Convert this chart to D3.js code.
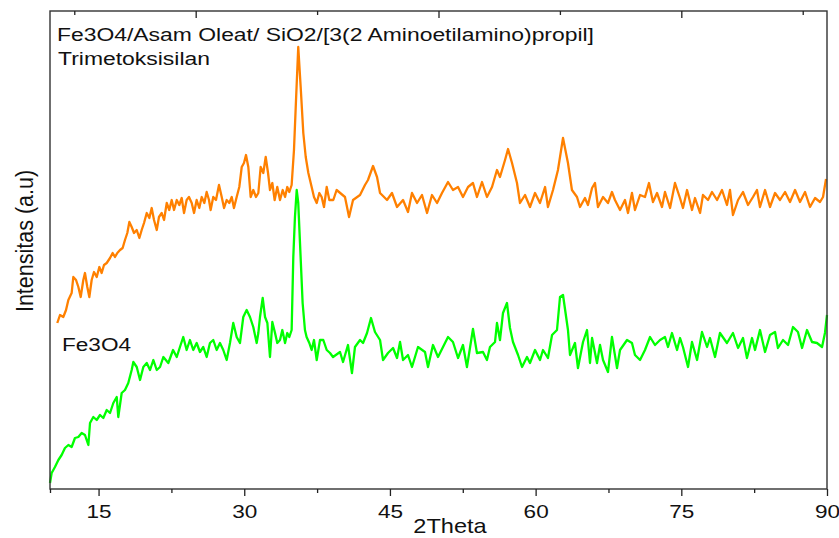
<!DOCTYPE html>
<html>
<head>
<meta charset="utf-8">
<script src="https://cdn.jsdelivr.net/npm/d3@7"></script>
<style>
    body { margin: 0; background: #fff; }
    text { font-family: 'Liberation Sans', Arial, sans-serif; fill: #111; }
</style>
</head>
<body>
<div class="xrd-container"></div>
<script>
// 2Theta tick labels
const majorTicks = [15, 30, 45, 60, 75, 90];
const minorTicks = [10, 22.5, 37.5, 52.5, 67.5, 82.5];
const topMajorTicks = [25, 50, 75];
const topMinorTicks = [12.5, 37.5, 62.5, 87.5];

// Fe3O4 (green)
const fe3o4Theta = [
    10.00, 10.17, 10.51, 10.86, 11.20, 11.54, 11.89, 12.23, 12.57, 12.92,
    13.26, 13.60, 13.95, 14.12, 14.46, 14.81, 15.15, 15.49, 15.84, 16.18,
    16.52, 16.87, 17.03, 17.38, 17.72, 18.06, 18.41, 18.58, 18.93, 19.27,
    19.61, 19.96, 20.30, 20.64, 20.99, 21.33, 21.67, 22.18, 22.67, 23.05,
    23.38, 23.72, 24.07, 24.41, 24.75, 25.10, 25.44, 25.78, 26.13, 26.47,
    26.81, 27.16, 27.50, 27.84, 28.19, 28.53, 28.87, 29.22, 29.56, 29.90,
    30.25, 30.59, 30.93, 31.28, 31.45, 31.62, 31.90, 32.14, 32.38, 32.65,
    32.89, 33.17, 33.40, 33.68, 33.92, 34.20, 34.43, 34.64, 34.88, 35.05,
    35.22, 35.40, 35.56, 35.74, 36.01, 36.25, 36.42, 36.70, 36.94, 37.18,
    37.46, 37.80, 38.14, 38.49, 38.83, 39.14, 39.86, 40.17, 40.68, 41.09,
    41.40, 41.92, 42.23, 42.64, 43.05, 43.46, 43.98, 44.29, 44.80, 45.32,
    45.73, 46.04, 46.35, 46.86, 47.27, 47.89, 48.61, 48.92, 49.43, 49.95,
    50.67, 50.98, 51.49, 52.01, 52.52, 52.93, 53.55, 53.96, 54.58, 54.99,
    55.30, 55.82, 56.02, 56.33, 56.64, 57.05, 57.36, 57.67, 58.19, 58.60,
    59.11, 59.42, 59.94, 60.45, 60.76, 61.27, 61.69, 62.20, 62.51, 62.82,
    63.33, 63.54, 64.05, 64.36, 64.88, 65.29, 65.60, 65.81, 66.32, 66.63,
    66.94, 67.45, 67.86, 68.38, 68.69, 69.41, 69.92, 70.23, 70.75, 71.26,
    71.78, 72.29, 72.81, 73.32, 73.63, 74.04, 74.56, 74.87, 75.17, 75.69,
    76.10, 76.62, 77.13, 77.65, 77.95, 78.47, 78.98, 79.70, 80.32, 80.84,
    81.35, 81.76, 82.28, 82.59, 83.10, 83.62, 84.13, 84.65, 84.95, 85.47,
    85.99, 86.50, 87.01, 87.43, 87.94, 88.46, 88.97, 89.49, 89.79, 90.00];
const fe3o4Int = [
    6, 16, 22, 29, 34, 41, 44, 42, 51, 52,
    56, 54, 44, 66, 72, 69, 74, 71, 79, 76,
    86, 92, 72, 96, 99, 106, 119, 127, 122, 109,
    122, 126, 119, 129, 119, 122, 132, 126, 139, 132,
    142, 152, 139, 149, 139, 146, 137, 142, 132, 146,
    149, 139, 146, 139, 129, 146, 166, 152, 146, 172,
    179, 172, 162, 146, 156, 172, 191, 172, 166, 132,
    167, 156, 146, 149, 159, 146, 156, 152, 159, 232,
    272, 299, 286, 246, 186, 159, 152, 146, 139, 149,
    129, 149, 149, 139, 136, 132, 137, 127, 144, 116,
    142, 149, 146, 156, 171, 157, 149, 129, 136, 141,
    131, 147, 129, 134, 122, 142, 137, 122, 144, 132,
    146, 152, 147, 131, 144, 122, 160, 136, 137, 129,
    142, 147, 166, 149, 176, 186, 161, 147, 134, 122,
    132, 126, 139, 129, 139, 131, 154, 159, 192, 194,
    159, 134, 146, 121, 147, 159, 126, 151, 126, 144,
    129, 117, 152, 121, 139, 149, 146, 134, 129, 139,
    152, 144, 149, 152, 142, 156, 139, 151, 142, 122,
    147, 129, 157, 142, 151, 132, 156, 146, 156, 141,
    151, 131, 151, 139, 159, 137, 154, 157, 141, 149,
    144, 162, 157, 141, 159, 147, 146, 142, 156, 174];

// Fe3O4/Asam Oleat/SiO2/... (orange)
const coatedTheta = [
    10.75, 11.03, 11.37, 11.65, 11.89, 12.23, 12.40, 12.68, 12.92, 13.16,
    13.43, 13.60, 13.84, 14.05, 14.29, 14.53, 14.81, 15.08, 15.32, 15.56,
    15.84, 16.18, 16.45, 16.69, 16.93, 17.21, 17.48, 17.72, 17.96, 18.17,
    18.41, 18.65, 18.93, 19.20, 19.44, 19.68, 19.96, 20.23, 20.47, 20.71,
    20.99, 21.22, 21.50, 21.74, 22.02, 22.28, 22.53, 22.77, 23.05, 23.31,
    23.56, 23.80, 24.07, 24.31, 24.59, 24.83, 25.10, 25.37, 25.62, 25.89,
    26.13, 26.37, 26.54, 26.81, 27.09, 27.40, 27.68, 27.92, 28.19, 28.46,
    28.71, 28.94, 29.22, 29.49, 29.74, 29.97, 30.18, 30.42, 30.66, 30.93,
    31.21, 31.45, 31.69, 31.96, 32.21, 32.45, 32.65, 32.89, 33.13, 33.40,
    33.68, 33.96, 34.20, 34.43, 34.64, 34.88, 35.12, 35.33, 35.56, 35.81,
    36.08, 36.33, 36.60, 36.94, 37.18, 37.46, 37.73, 37.97, 38.21, 38.49,
    38.76, 39.17, 39.51, 40.37, 40.79, 41.20, 41.92, 42.43, 42.74, 43.26,
    43.67, 43.98, 44.70, 45.21, 45.73, 46.35, 46.86, 47.27, 47.79, 48.30,
    48.82, 49.33, 49.85, 50.36, 50.98, 51.49, 52.01, 52.52, 53.04, 53.55,
    53.96, 54.48, 54.99, 55.51, 56.02, 56.33, 56.85, 57.16, 57.57, 58.08,
    58.39, 58.91, 59.42, 59.94, 60.45, 60.97, 61.27, 61.79, 62.30, 62.82,
    63.33, 63.74, 64.26, 64.57, 65.08, 65.39, 65.81, 66.11, 66.42, 66.94,
    67.45, 67.86, 68.17, 68.69, 69.20, 69.51, 69.92, 70.23, 70.75, 71.26,
    71.67, 72.08, 72.50, 73.01, 73.32, 73.84, 74.35, 74.86, 75.17, 75.59,
    76.10, 76.41, 76.93, 77.23, 77.75, 78.16, 78.68, 79.19, 79.70, 80.01,
    80.32, 80.84, 81.35, 81.87, 82.38, 82.79, 83.10, 83.62, 84.13, 84.65,
    85.16, 85.68, 86.19, 86.71, 87.22, 87.74, 88.25, 88.77, 89.28, 89.59,
    89.90];
const coatedInt = [
    166, 174, 172, 179, 189, 196, 212, 209, 202, 192,
    209, 216, 202, 192, 209, 217, 212, 222, 216, 224,
    226, 231, 236, 232, 236, 239, 241, 249, 256, 267,
    262, 256, 259, 251, 259, 266, 276, 271, 281, 269,
    259, 272, 276, 269, 286, 279, 289, 279, 289, 284,
    291, 276, 289, 292, 286, 276, 289, 281, 292, 286,
    297, 289, 279, 292, 289, 304, 292, 281, 289, 286,
    292, 281, 292, 302, 322, 326, 334, 322, 292, 299,
    292, 296, 322, 316, 332, 316, 299, 306, 289, 302,
    289, 299, 292, 302, 297, 304, 339, 389, 442, 402,
    356, 332, 316, 302, 292, 286, 296, 292, 282, 302,
    289, 289, 299, 292, 272, 289, 294, 304, 309, 323,
    312, 296, 289, 296, 282, 289, 277, 296, 286, 294,
    276, 294, 286, 296, 307, 299, 302, 292, 302, 306,
    292, 307, 292, 302, 319, 312, 329, 340, 326, 306,
    286, 294, 282, 296, 286, 302, 282, 299, 319, 351,
    326, 299, 292, 282, 291, 284, 301, 306, 282, 292,
    286, 297, 289, 279, 289, 276, 296, 279, 294, 292,
    306, 287, 296, 282, 297, 281, 306, 291, 281, 299,
    279, 291, 276, 294, 289, 297, 289, 299, 284, 299,
    274, 289, 297, 284, 292, 299, 282, 299, 282, 296,
    289, 297, 287, 299, 287, 297, 282, 291, 287, 292,
    310];

const labelFont = "'Liberation Sans', Arial, sans-serif";

function setupCanvas() {
    const svg_width = 839;
    const svg_height = 538;
    const frame = { left: 50, right: 827, top: 11, bottom: 489 };

    const svg = d3.select('.xrd-container')
        .append('svg')
        .attr('width', svg_width)
        .attr('height', svg_height);

    const xScale = d3.scaleLinear([10, 90], [frame.left, frame.right]);
    const yScale = d3.scaleLinear([0, 478], [frame.bottom, frame.top]);

    const line = d3.line()
        .x(d => xScale(d[0]))
        .y(d => yScale(d[1]));

    // series
    svg.append('path')
        .datum(d3.zip(fe3o4Theta, fe3o4Int))
        .attr('d', line)
        .attr('fill', 'none')
        .attr('stroke', '#00ff00')
        .attr('stroke-width', 2.3)
        .attr('stroke-linejoin', 'round');

    svg.append('path')
        .datum(d3.zip(coatedTheta, coatedInt))
        .attr('d', line)
        .attr('fill', 'none')
        .attr('stroke', '#ff8000')
        .attr('stroke-width', 2.3)
        .attr('stroke-linejoin', 'round');

    // frame
    svg.append('rect')
        .attr('x', frame.left)
        .attr('y', frame.top)
        .attr('width', frame.right - frame.left)
        .attr('height', frame.bottom - frame.top)
        .attr('fill', 'none')
        .attr('stroke', '#333')
        .attr('stroke-width', 1.4);

    // bottom axis
    const xAxis = d3.axisBottom(xScale)
        .tickValues(majorTicks)
        .tickFormat(d3.format('d'))
        .tickSizeInner(7)
        .tickSizeOuter(0);
    const xAxisDraw = svg.append('g')
        .attr('transform', `translate(0,${frame.bottom})`)
        .call(xAxis);
    xAxisDraw.select('.domain').remove();
    xAxisDraw.selectAll('line').attr('stroke', '#222').attr('stroke-width', 1.3);
    xAxisDraw.selectAll('text')
        .attr('y', 29)
        .attr('dy', 0)
        .attr('transform', 'scale(1.22,1)')
        .style('font-family', labelFont)
        .style('font-size', '18.5px')
        .style('fill', '#111');

    const xMinor = d3.axisBottom(xScale)
        .tickValues(minorTicks)
        .tickFormat('')
        .tickSizeInner(4)
        .tickSizeOuter(0);
    const xMinorDraw = svg.append('g')
        .attr('transform', `translate(0,${frame.bottom})`)
        .call(xMinor);
    xMinorDraw.select('.domain').remove();
    xMinorDraw.selectAll('line').attr('stroke', '#222').attr('stroke-width', 1.3);

    // top axis, ticks pointing in
    const topMajor = d3.axisTop(xScale)
        .tickValues(topMajorTicks)
        .tickFormat('')
        .tickSizeInner(-7)
        .tickSizeOuter(0);
    const topMajorDraw = svg.append('g')
        .attr('transform', `translate(0,${frame.top})`)
        .call(topMajor);
    topMajorDraw.select('.domain').remove();
    topMajorDraw.selectAll('line').attr('stroke', '#222').attr('stroke-width', 1.3);

    const topMinor = d3.axisTop(xScale)
        .tickValues(topMinorTicks)
        .tickFormat('')
        .tickSizeInner(-4)
        .tickSizeOuter(0);
    const topMinorDraw = svg.append('g')
        .attr('transform', `translate(0,${frame.top})`)
        .call(topMinor);
    topMinorDraw.select('.domain').remove();
    topMinorDraw.selectAll('line').attr('stroke', '#222').attr('stroke-width', 1.3);

    // axis titles
    svg.append('text')
        .attr('transform', 'translate(450,533) scale(1.15,1)')
        .attr('text-anchor', 'middle')
        .style('font-size', '20.5px')
        .text('2Theta');

    svg.append('text')
        .attr('transform', 'translate(33,241) rotate(-90) scale(1,1.15)')
        .attr('text-anchor', 'middle')
        .style('font-size', '21.5px')
        .text('Intensitas (a.u)');

    // series labels
    svg.append('text')
        .attr('x', 57)
        .attr('y', 41)
        .attr('textLength', 537)
        .attr('lengthAdjust', 'spacingAndGlyphs')
        .style('font-size', '17.5px')
        .text('Fe3O4/Asam Oleat/ SiO2/[3(2 Aminoetilamino)propil]');
    svg.append('text')
        .attr('x', 58)
        .attr('y', 65)
        .attr('textLength', 152)
        .attr('lengthAdjust', 'spacingAndGlyphs')
        .style('font-size', '17.5px')
        .text('Trimetoksisilan');
    svg.append('text')
        .attr('x', 62)
        .attr('y', 351)
        .attr('textLength', 69)
        .attr('lengthAdjust', 'spacingAndGlyphs')
        .style('font-size', '18px')
        .text('Fe3O4');
}

setupCanvas();
</script>
</body>
</html>
